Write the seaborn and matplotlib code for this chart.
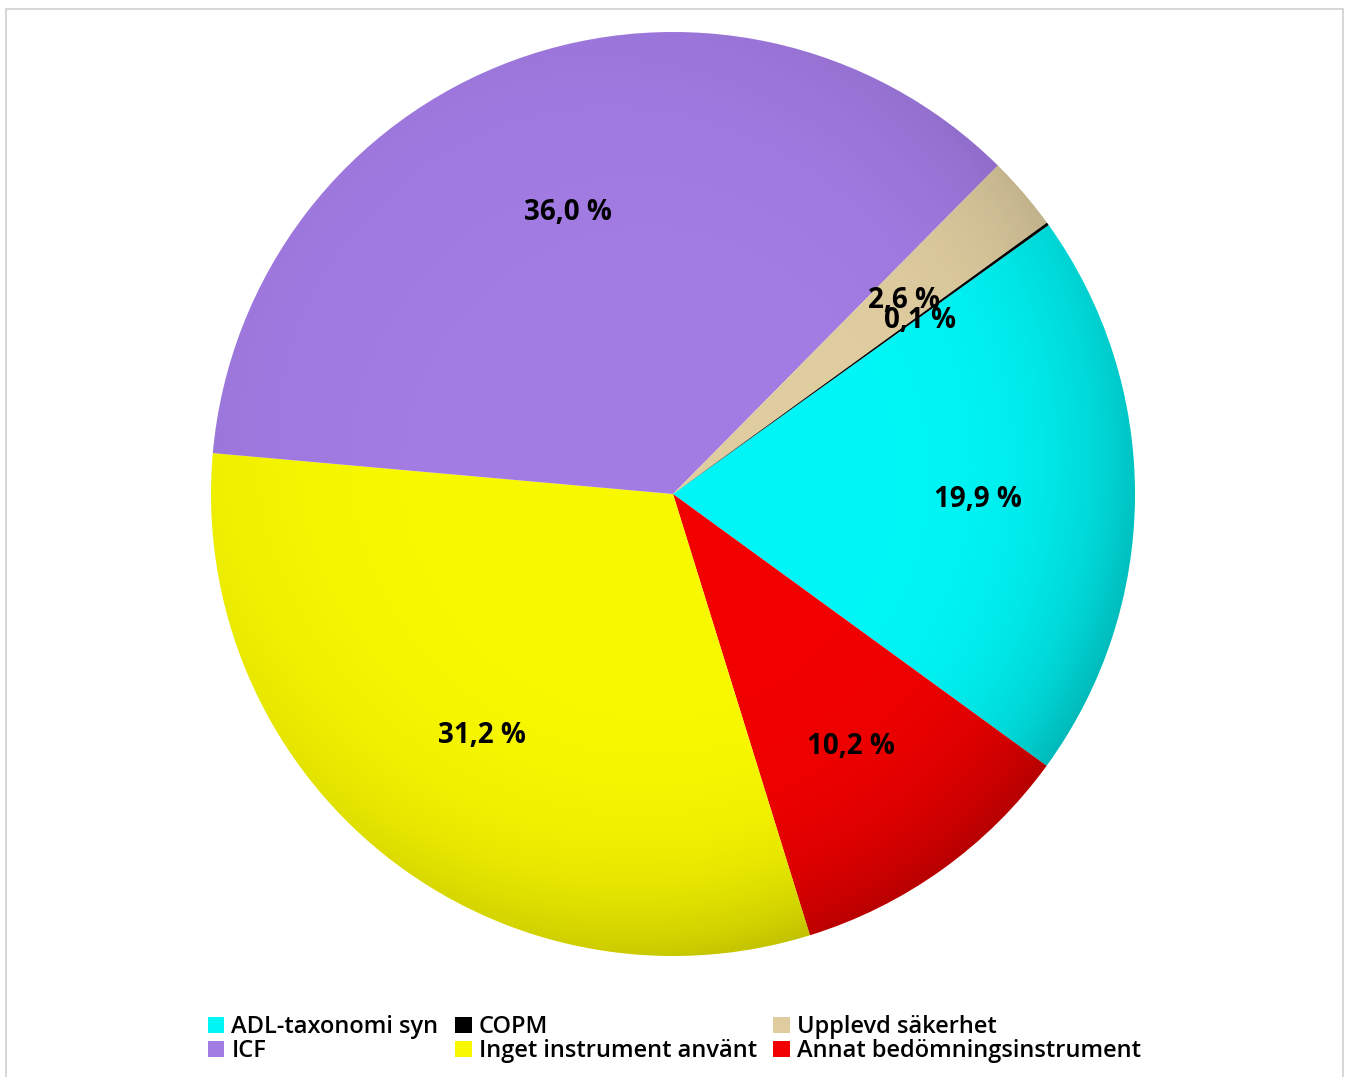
import numpy as np
import matplotlib
matplotlib.use("Agg")
import matplotlib.pyplot as plt
import seaborn as sns
from matplotlib.patches import Circle, Rectangle

# slice data, clockwise from the upper right
categories = ["ADL-taxonomi syn", "Annat bedömningsinstrument", "Inget instrument använt",
              "ICF", "Upplevd säkerhet", "COPM"]
shares = [19.9, 10.2, 31.2, 36.0, 2.6, 0.1]
colors = ["#00F6F6", "#F20000", "#F8F800", "#A27BE3", "#DFCDA0", "#000000"]

# legend order (row-wise in the picture: ADL, COPM, Upplevd / ICF, Inget, Annat)
legend_order = ["ADL-taxonomi syn", "ICF", "COPM", "Inget instrument använt",
                "Upplevd säkerhet", "Annat bedömningsinstrument"]

sns.set_theme(style="white")
plt.rcParams['font.family'] = ['Open Sans', 'DejaVu Sans']

W, H = 1349, 1077
fig = plt.figure(figsize=(W / 100, H / 100), dpi=100)

# light frame around the chart area
fig.patches.append(Rectangle((6 / W, -0.01), (1343 - 6) / W, 1 - 9 / H + 0.01,
                             transform=fig.transFigure, fill=False,
                             edgecolor="#D0D0D0", linewidth=1.2))

cx, cy, r = 673, H - 494, 462
ax = fig.add_axes([(cx - r) / W, (cy - r) / H, 2 * r / W, 2 * r / H])

wedges, texts, autotexts = ax.pie(
    shares, colors=colors, startangle=35.6, counterclock=False,
    autopct=lambda p: f"{p:.1f} %".replace(".", ","), pctdistance=0.66,
    wedgeprops=dict(linewidth=0),
    textprops=dict(fontsize=20, fontweight="bold", color="black"))
for t in autotexts:
    t.set_zorder(5)
    x, y = t.get_position()
    t.set_position((x, y - 0.01))

ax.set_xlim(-1, 1)
ax.set_ylim(-1, 1)
ax.set_aspect("equal")
ax.axis("off")

# soft shading, darker towards the lower right rim
n = 500
xs = np.linspace(-1, 1, n)
X, Y = np.meshgrid(xs, xs[::-1])
R = np.sqrt(X ** 2 + Y ** 2)
direction = np.clip(0.5 + 0.5 * (X * 0.75 - Y * 0.65) / np.maximum(R, 1e-6), 0, 1)
alpha = np.clip(0.03 * R ** 4 + 0.22 * R ** 6 * direction ** 1.5, 0, 0.28)
shade = np.zeros((n, n, 4))
shade[..., 3] = alpha
img = ax.imshow(shade, extent=[-1, 1, -1, 1], zorder=3, interpolation="bilinear")
img.set_clip_path(Circle((0, 0), 1, transform=ax.transData))

handles = [wedges[categories.index(c)] for c in legend_order]
leg = fig.legend(handles, legend_order, loc="lower left", bbox_to_anchor=(196 / W, 2 / H),
                 ncol=3, frameon=False,
                 prop=dict(size=17, weight="semibold"),
                 handlelength=0.7, handleheight=0.7,
                 handletextpad=0.3, columnspacing=0.7, labelspacing=0.0, borderpad=0)
for t in leg.get_texts():
    t.set_color("black")

fig.savefig("out.png", dpi=100, facecolor="white")
